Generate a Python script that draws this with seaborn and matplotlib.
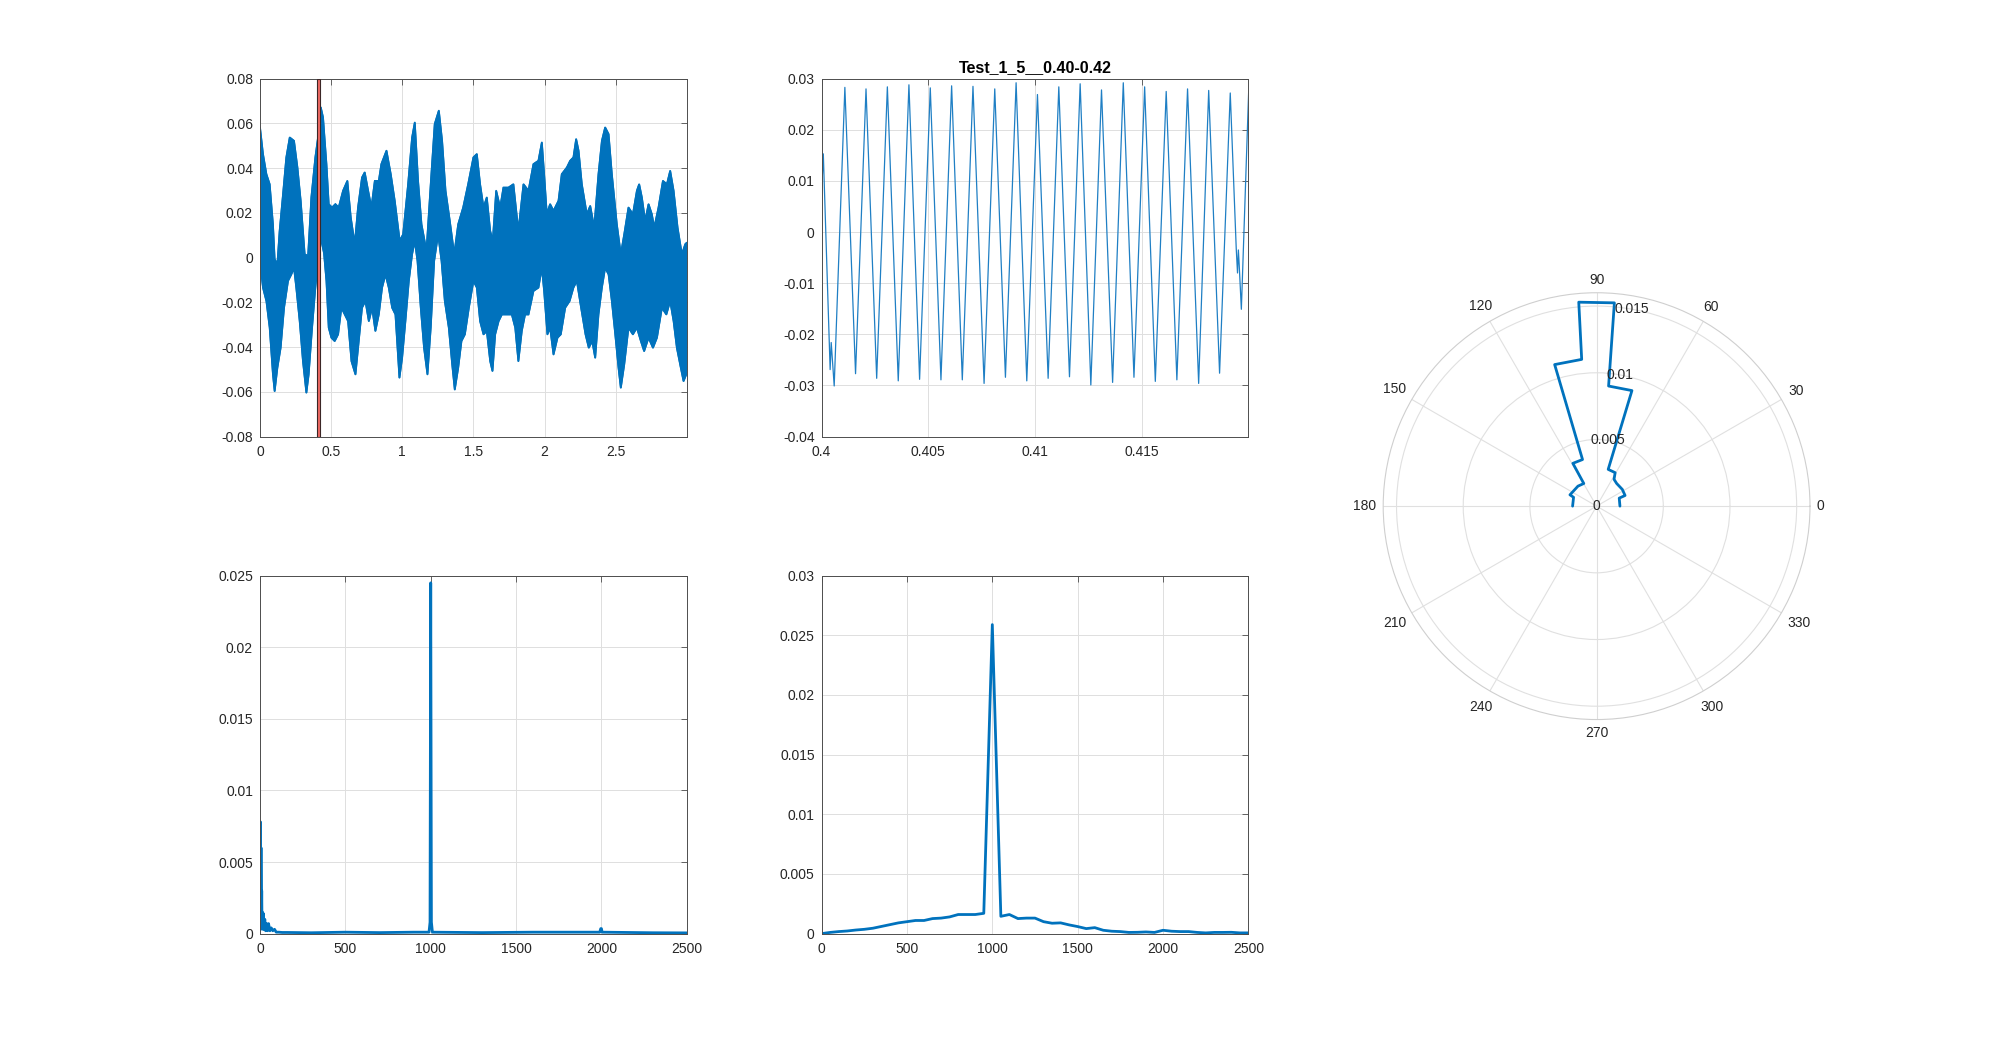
import numpy as np
import pandas as pd
import seaborn as sns
import matplotlib.pyplot as plt

# --- top left: 3 s signal, drawn as its upper / lower envelope
env_up_t = [0, .021, .045, .068, .091, .103, .122, .138, .162, .185, .209, .239, .263, .286, .314,
            .338, .361, .389, .408, .427, .443, .467, .483, .506, .530, .553, .584, .614, .638, .666,
            .689, .717, .736, .760, .783, .807, .835, .853, .889, .919, .947, .982, 1.006, 1.041,
            1.069, 1.088, 1.111, 1.135, 1.170, 1.200, 1.228, 1.257, 1.280, 1.304, 1.334, 1.365,
            1.393, 1.428, 1.463,
            1.500, 1.524, 1.547, 1.571, 1.594, 1.618, 1.636, 1.660, 1.688, 1.711, 1.746, 1.781,
            1.816, 1.852, 1.887, 1.922, 1.957, 1.981, 1.997, 2.016, 2.039, 2.063, 2.098, 2.121,
            2.157, 2.180, 2.203, 2.222, 2.239, 2.262, 2.297, 2.321, 2.349, 2.379, 2.403, 2.426,
            2.450, 2.473, 2.508, 2.536, 2.560, 2.590, 2.621, 2.649, 2.665, 2.684, 2.707, 2.731,
            2.754, 2.771, 2.801, 2.832, 2.860, 2.883, 2.907, 2.935, 2.965, 2.989, 3.0]
env_up_v = [.0582, .0463, .0373, .0328, .0149, -.0007, -.003, .0119, .0284, .0448, .0537, .0522,
            .0403, .0254, .0015, .0007, .0269, .0448, .0537, .0672, .0627, .0418, .0239, .0224,
            .0239, .0224, .0299, .0343, .0179, .006, .0224, .0358, .0381, .0299, .0224, .0343,
            .0343, .0418, .0478, .0373, .0254, .0075, .0104, .0328, .0537, .0604, .0343, .0149,
            .003, .0328, .0597, .0657, .0522, .0299, .0164, .0015, .0149, .0224, .0328,
            .0448, .0463, .0328, .0224, .0269, .0119, .0075, .0299, .0224, .0313, .0313, .0328,
            .0119, .0328, .0299, .0418, .0433, .0515, .0373, .0194, .0239, .0209, .0254, .0373,
            .0403, .0433, .0448, .0530, .0478, .0328, .0194, .0231, .0134, .0373, .0522, .0582,
            .0552, .0373, .0149, .0015, .0104, .0224, .0194, .0299, .0328, .0269, .0164, .0239,
            .0194, .0134, .0224, .0343, .0328, .0388, .0299, .0134, .0015, .006, .0067]

env_lo_t = [0, .021, .045, .068, .091, .103, .122, .145, .169, .197, .220, .239, .255, .279, .302,
            .326, .342, .366, .389, .408, .427, .450, .467, .483, .502, .525, .549, .572, .596, .619,
            .643, .671, .694, .717, .741, .765, .788, .811, .835, .858, .882, .905, .929, .952, .980,
            .999, 1.022, 1.046, 1.069, 1.088, 1.107, 1.130, 1.153, 1.177, 1.200, 1.224, 1.252,
            1.276, 1.299, 1.327, 1.351, 1.369, 1.393, 1.416, 1.440, 1.468,
            1.500, 1.524, 1.547, 1.571, 1.594, 1.618, 1.634, 1.653, 1.677, 1.700, 1.735, 1.770,
            1.794, 1.816, 1.840, 1.863, 1.887, 1.922, 1.957, 1.981, 1.997, 2.020, 2.039, 2.063,
            2.091, 2.114, 2.145, 2.176, 2.203, 2.227, 2.257, 2.288, 2.311, 2.335, 2.356, 2.379,
            2.403, 2.426, 2.450, 2.473, 2.497, 2.520, 2.536, 2.560, 2.590, 2.621, 2.649, 2.677,
            2.700, 2.731, 2.762, 2.790, 2.825, 2.856, 2.883, 2.907, 2.930, 2.958, 2.977, 2.996]
env_lo_v = [-.0015, -.0134, -.0194, -.0313, -.0522, -.0597, -.0493, -.0403, -.0224, -.0104,
            -.0075, -.0045, -.0134, -.0284, -.0463, -.0604, -.0522, -.0313, -.0134, -.0015,
            .009, .002, -.0104, -.0313, -.0358, -.0373, -.0343, -.0224, -.0254, -.0284,
            -.0463, -.0522, -.0373, -.0224, -.0194, -.0284, -.0224, -.0328, -.0254, -.0134,
            -.0075, -.0134, -.0224, -.0254, -.0537, -.0448, -.0284, -.0104, .0015, .0075,
            -.0015, -.0224, -.0403, -.0522, -.0313, -.0015, .0104, -.0015, -.0194, -.0313,
            -.0478, -.0590, -.0493, -.0373, -.0343, -.0224,
            -.0104, -.0134, -.0284, -.0343, -.0328, -.0463, -.0507, -.0343, -.0284, -.0254,
            -.0254, -.0254, -.0313, -.0463, -.0328, -.0254, -.0254, -.0149, -.0134, -.0045,
            -.0149, -.0343, -.0313, -.0433, -.0358, -.0343, -.0224, -.0194, -.0134, -.0104,
            -.0224, -.0343, -.0403, -.0373, -.0448, -.0254, -.0134, -.0045, -.0075, -.0194,
            -.0343, -.0493, -.0582, -.0478, -.0313, -.0343, -.0313, -.0373, -.0418, -.0358,
            -.0403, -.0358, -.0224, -.0254, -.0194, -.0284, -.0403, -.0493, -.0552, -.0522]

window = (0.40, 0.42)

# --- top middle: the 0.40-0.42 s window (turning points of the waveform)
win_t = [0.40000, 0.40008, 0.40040, 0.40045, 0.40059,
         0.40109, 0.40159, 0.40208, 0.40258, 0.40308, 0.40359, 0.40409, 0.40459, 0.40509, 0.40559,
         0.40609, 0.40659, 0.40709, 0.40761, 0.40811, 0.40861, 0.40911, 0.40961, 0.41011, 0.41061,
         0.41111, 0.41161, 0.41211, 0.41261, 0.41311, 0.41363, 0.41413, 0.41463, 0.41513, 0.41563,
         0.41614, 0.41664, 0.41714, 0.41766, 0.41813, 0.41864, 0.41914,
         0.41942, 0.41948, 0.41952, 0.41956, 0.41966, 0.42000]
win_v = [0.0076, 0.0153, -0.0269, -0.0216, -0.0301,
         0.0283, -0.0277, 0.0280, -0.0286, 0.0284, -0.0291, 0.0288, -0.0288, 0.0282, -0.0289,
         0.0286, -0.0289, 0.0285, -0.0296, 0.0280, -0.0284, 0.0292, -0.0291, 0.0269, -0.0286,
         0.0284, -0.0283, 0.0290, -0.0299, 0.0278, -0.0294, 0.0292, -0.0284, 0.0284, -0.0292,
         0.0275, -0.0289, 0.0280, -0.0296, 0.0277, -0.0276, 0.0272,
         -0.0032, -0.0080, -0.0035, -0.0065, -0.0151, 0.0272]

# --- bottom left: spectrum of the whole record
spec_f = [0, 1.5, 3, 4.5, 6, 8, 10, 12, 14, 17, 20, 24, 28, 33, 38, 44, 50, 58, 66, 75, 85, 95,
          110, 130, 160, 300, 500, 700, 900, 990, 996, 1000, 1004, 1010, 1300, 1600, 1990,
          1996, 2000, 2004, 2300, 2500]
spec_a = [.0037, .0005, .0078, .0003, .0060, .0004, .0030, .0004, .0015, .0003, .0014, .0003,
          .0010, .0002, .0007, .0002, .0007, .0002, .0004, .0002, .0003, .0001, .0001, .00008,
          .00008, .00006, .0001, .00007, .0001, .0001, .0008, .0245, .0008, .0001, .00007,
          .0001, .0001, .00035, .00035, .0001, .00006, .00005]

# --- bottom middle: spectrum of the window (50 Hz bins)
win_f = list(range(0, 2501, 50))
win_a = [0, .0001, .00017, .00022, .0003, .00036, .00045, .0006, .00075, .0009, .001, .0011,
         .0011, .00126, .0013, .0014, .0016, .0016, .0016, .0017, .0259, .00145, .0016, .00126,
         .0013, .0013, .001, .00087, .0009, .00073, .00059, .00042, .0005, .00028, .0002,
         .00017, .0001, .00011, .00014, .0001, .00028, .0002, .00017, .00017, .0001, .00006,
         .0001, .0001, .00011, .00006, .00006]

# --- right: polar plot
polar_deg = [0, 19.5, 20.5, 33, 48.5, 57, 61, 72.5, 73, 84.3, 85, 95, 95.8, 106.5, 106.8, 119,
             119.5, 133, 157, 159, 180]
polar_r = [0.00175, 0.0018, 0.00228, 0.0023, 0.00227, 0.0024, 0.00287, 0.00289, 0.00906,
           0.00905, 0.0153, 0.01535, 0.01106, 0.01107, 0.00365, 0.00367, 0.00195, 0.00205,
           0.00217, 0.00185, 0.0018]
polar_rticks = [0, 0.005, 0.01, 0.015]
polar_rmax = 0.016
theta_ticks = list(range(0, 360, 30))

title = 'Test_1_5__0.40-0.42'

BLUE = '#0072BD'
TXT = '#262626'

sns.set_style('white')
plt.rcParams['font.family'] = ['Liberation Sans', 'DejaVu Sans']


def fmt(v):
    return '0' if v == 0 else f'{v:g}'


def matlab_axes(ax, xticks, yticks, xlim, ylim):
    ax.set_xlim(*xlim)
    ax.set_ylim(*ylim)
    ax.set_xticks(xticks)
    ax.set_yticks(yticks)
    ax.set_xticklabels([fmt(v) for v in xticks])
    ax.set_yticklabels([fmt(v) for v in yticks])
    ax.grid(True, color='#dedede', linewidth=0.7)
    ax.set_axisbelow(True)
    for s in ax.spines.values():
        s.set_color('#4d4d4d')
        s.set_linewidth(0.7)
    ax.tick_params(direction='in', length=4, width=0.6, color='#4d4d4d', labelcolor=TXT,
                   labelsize=10, top=True, right=True)
    ax.tick_params(axis='x', pad=6)
    ax.tick_params(axis='y', pad=5)
    ax.set_xlabel('')
    ax.set_ylabel('')


fig = plt.figure(figsize=(20, 10.49), dpi=100)
ax1 = fig.add_axes([0.13, 0.5838, 0.2134, 0.3412])
ax2 = fig.add_axes([0.4108, 0.5838, 0.2134, 0.3412])
ax4 = fig.add_axes([0.13, 0.11, 0.2134, 0.3412])
ax5 = fig.add_axes([0.4108, 0.11, 0.2134, 0.3412])
axp = fig.add_axes([0.6916, 0.11, 0.2134, 0.815], projection='polar')

# top left
band_x = np.concatenate([env_up_t, env_lo_t[::-1]])
band_y = np.concatenate([env_up_v, env_lo_v[::-1]])
ax1.fill(band_x, band_y, color=BLUE, linewidth=1.2, zorder=2)
sns.lineplot(x=env_up_t, y=env_up_v, ax=ax1, color=BLUE, linewidth=1.3, sort=False,
             estimator=None, zorder=2)
sns.lineplot(x=env_lo_t, y=env_lo_v, ax=ax1, color=BLUE, linewidth=1.3, sort=False,
             estimator=None, zorder=2)
ax1.axvspan(window[0], window[1], facecolor='#f06a64', edgecolor='#3b2626', linewidth=0.8,
            zorder=3)
matlab_axes(ax1, [0, 0.5, 1, 1.5, 2, 2.5], np.round(np.arange(-0.08, 0.081, 0.02), 2),
            (0, 2.9998), (-0.08, 0.08))

# top middle
sns.lineplot(x=win_t, y=win_v, ax=ax2, color='#1f7fc4', linewidth=0.9, sort=False,
             estimator=None)
matlab_axes(ax2, [0.4, 0.405, 0.41, 0.415], np.round(np.arange(-0.04, 0.031, 0.01), 2),
            (0.4, 0.41999), (-0.04, 0.03))
ax2.set_title(title, fontsize=11.5, fontweight='bold', color='black', pad=5)

# bottom left
sns.lineplot(x=spec_f, y=spec_a, ax=ax4, color=BLUE, linewidth=2, sort=False, estimator=None)
matlab_axes(ax4, [0, 500, 1000, 1500, 2000, 2500], np.round(np.arange(0, 0.0251, 0.005), 3),
            (0, 2500), (0, 0.025))

# bottom middle
sns.lineplot(x=win_f, y=win_a, ax=ax5, color=BLUE, linewidth=2, sort=False, estimator=None)
matlab_axes(ax5, [0, 500, 1000, 1500, 2000, 2500], np.round(np.arange(0, 0.031, 0.005), 3),
            (0, 2500), (0, 0.03))

# polar
sns.lineplot(x=np.deg2rad(polar_deg), y=polar_r, ax=axp, color=BLUE, linewidth=2, sort=False,
             estimator=None)
axp.set_rlim(0, polar_rmax)
axp.set_rticks(polar_rticks)
axp.set_yticklabels([])
axp.set_thetagrids(theta_ticks, [''] * len(theta_ticks))
axp.tick_params(axis='x', length=0)
axp.grid(True, color='#e0e0e0', linewidth=0.8)
axp.spines['polar'].set_color('#cfcfcf')
axp.spines['polar'].set_linewidth(0.8)
axp.set_xlabel('')
axp.set_ylabel('')

# angle labels just outside the rim, kept at a constant gap from the text edge
radius_px = 0.2134 * 2000 / 2
for a in theta_ticks:
    lab = str(a)
    th = np.deg2rad(a)
    off = 7 + abs(np.cos(th)) * 7.7 * len(lab) / 2 + abs(np.sin(th)) * 6
    axp.text(th, polar_rmax * (1 + off / radius_px), lab, ha='center', va='center',
             fontsize=10, color=TXT, clip_on=False)
for rv in polar_rticks:
    axp.text(np.deg2rad(80), rv, fmt(rv), ha='center', va='center', fontsize=10, color=TXT)

fig.savefig('out.png', dpi=100, facecolor='white')
